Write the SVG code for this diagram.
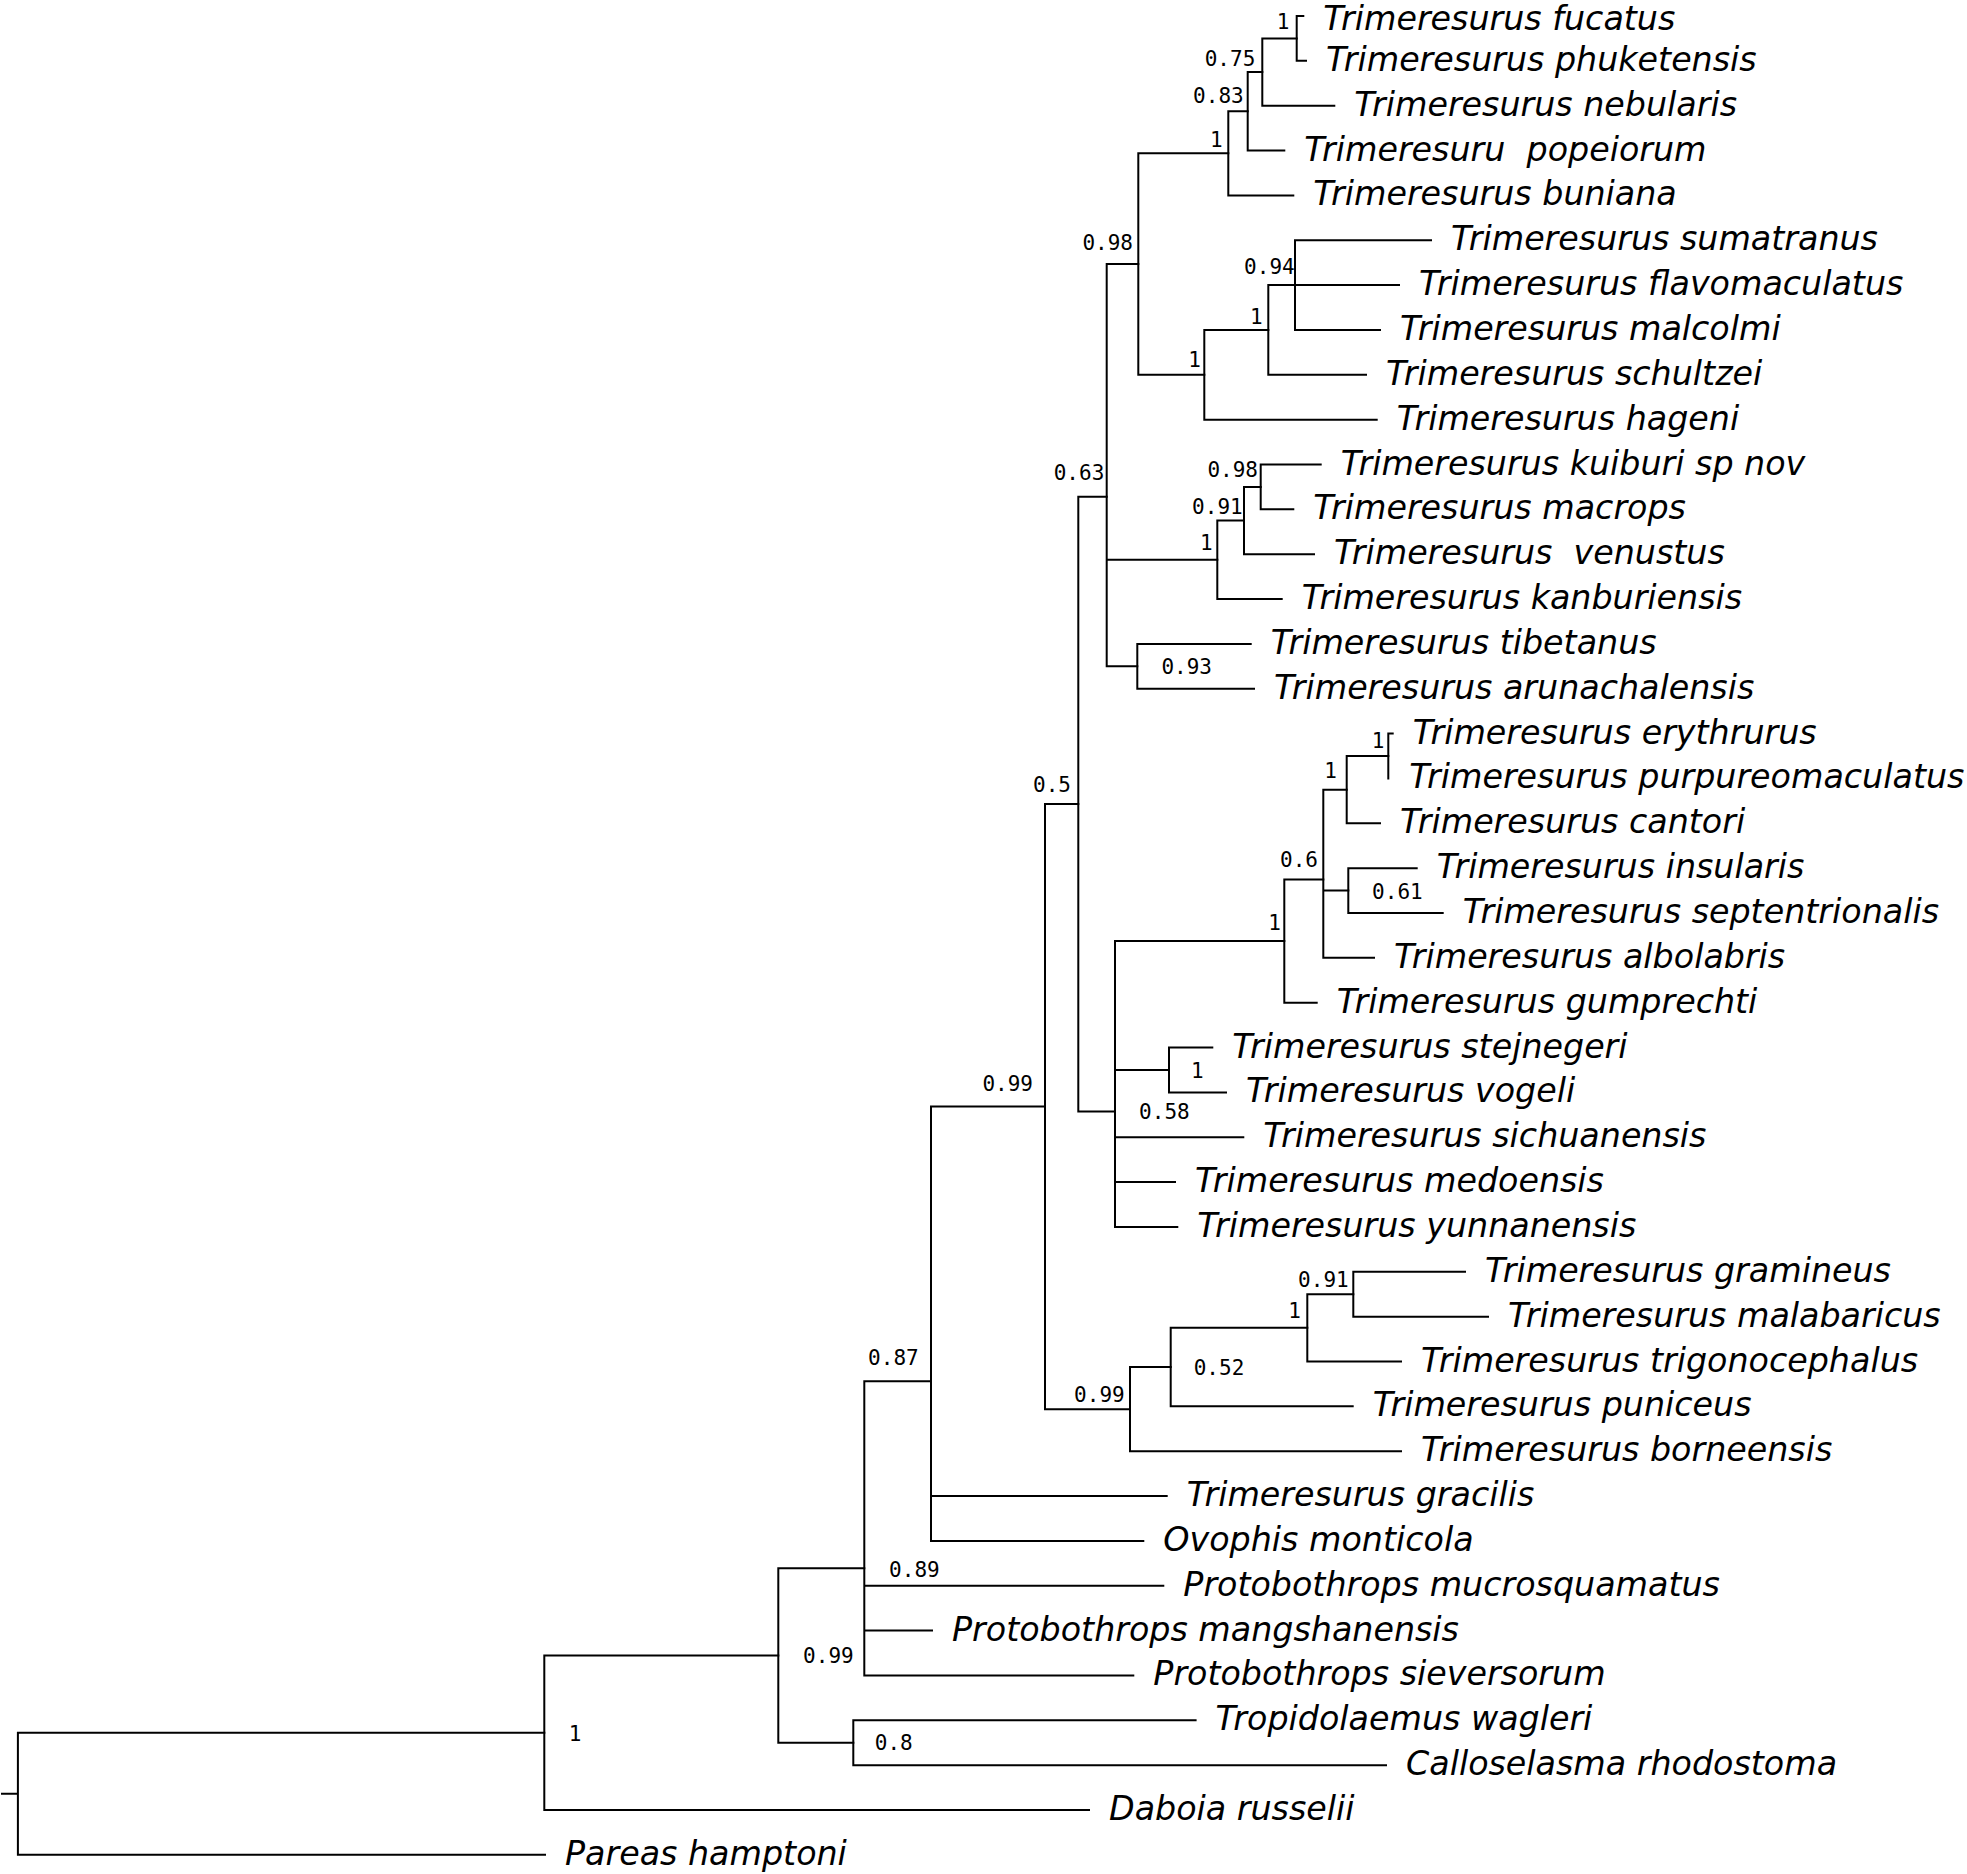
<svg xmlns="http://www.w3.org/2000/svg" width="1967" height="1874" viewBox="0 0 1967 1874">
<style>
.br{stroke:#000;stroke-width:2;fill:none;stroke-linecap:square}
.lf{font-family:"DejaVu Sans","Liberation Sans",sans-serif;font-style:italic;font-size:33.3px;fill:#000}
.sp{font-family:"DejaVu Sans Mono","Liberation Mono",monospace;font-size:21px;text-anchor:end;fill:#000}
</style>
<rect width="1967" height="1874" fill="#fff"/>
<g id="connectors" class="br">
<path d="M1296.7 16V60.85M1296.7 16H1303.3M1296.7 60.85H1306"/>
<path d="M1262.3 38.4V105.7M1262.3 38.4H1296.7M1262.3 105.7H1334.3"/>
<path d="M1247.7 72.05V150.55M1247.7 72.05H1262.3M1247.7 150.55H1284.3"/>
<path d="M1228.3 111.3V195.4M1228.3 111.3H1247.7M1228.3 195.4H1293.3"/>
<path d="M1295 240.25V329.95M1295 240.25H1431M1295 285.1H1399M1295 329.95H1380"/>
<path d="M1268.3 285.1V374.8M1268.3 285.1H1295M1268.3 374.8H1366"/>
<path d="M1204.3 329.95V419.65M1204.3 329.95H1268.3M1204.3 419.65H1376.7"/>
<path d="M1138.3 153.35V374.8M1138.3 153.35H1228.3M1138.3 374.8H1204.3"/>
<path d="M1260.7 464.5V509.35M1260.7 464.5H1320.7M1260.7 509.35H1293.3"/>
<path d="M1244 486.9V554.2M1244 486.9H1260.7M1244 554.2H1314"/>
<path d="M1217.3 520.55V599.05M1217.3 520.55H1244M1217.3 599.05H1281.7"/>
<path d="M1137.3 643.9V688.75M1137.3 643.9H1250.7M1137.3 688.75H1254"/>
<path d="M1106.7 264.1V666.3M1106.7 264.1H1138.3M1106.7 559.8H1217.3M1106.7 666.3H1137.3"/>
<path d="M1388.3 733.6V778.45M1388.3 733.6H1392.7"/>
<path d="M1346.7 756V823.3M1346.7 756H1388.3M1346.7 823.3H1380"/>
<path d="M1348.3 868.15V913M1348.3 868.15H1416.7M1348.3 913H1442.7"/>
<path d="M1323.3 789.65V957.85M1323.3 789.65H1346.7M1323.3 890.6H1348.3M1323.3 957.85H1374"/>
<path d="M1284.3 879.4V1002.7M1284.3 879.4H1323.3M1284.3 1002.7H1316.7"/>
<path d="M1169 1047.55V1092.4M1169 1047.55H1212.3M1169 1092.4H1226"/>
<path d="M1115 941.05V1226.95M1115 941.05H1284.3M1115 1069.95H1169M1115 1137.25H1243.3M1115 1182.1H1175M1115 1226.95H1177.3"/>
<path d="M1078.3 496.7V1111.46M1078.3 496.7H1106.7M1078.3 1111.46H1115"/>
<path d="M1353.3 1271.8V1316.65M1353.3 1271.8H1465M1353.3 1316.65H1488"/>
<path d="M1307.3 1294.2V1361.5M1307.3 1294.2H1353.3M1307.3 1361.5H1401"/>
<path d="M1170.7 1327.85V1406.35M1170.7 1327.85H1307.3M1170.7 1406.35H1352.7"/>
<path d="M1130 1367.1V1451.2M1130 1367.1H1170.7M1130 1451.2H1401"/>
<path d="M1045 804.1V1409.15M1045 804.1H1078.3M1045 1409.15H1130"/>
<path d="M931 1106.6V1540.9M931 1106.6H1045M931 1496.05H1166.7M931 1540.9H1143.3"/>
<path d="M864.3 1381.2V1675.45M864.3 1381.2H931M864.3 1585.75H1163.3M864.3 1630.6H932M864.3 1675.45H1133.3"/>
<path d="M853.3 1720.3V1765.15M853.3 1720.3H1195.6M853.3 1765.15H1386"/>
<path d="M778.3 1568.25V1742.7M778.3 1568.25H864.3M778.3 1742.7H853.3"/>
<path d="M544.3 1655.5V1810M544.3 1655.5H778.3M544.3 1810H1089"/>
<path d="M17.9 1732.75V1854.85M17.9 1732.75H544.3M17.9 1854.85H545M2 1793.8H17.9"/>
</g>
<g id="support-values" class="sp">
<g id="n-fuc-phu"><text x="1289.3" y="29.3">1</text></g>
<g id="n-075"><text x="1255.3" y="65.7">0.75</text></g>
<g id="n-083"><text x="1243.7" y="102.7">0.83</text></g>
<g id="n-1a"><text x="1222.7" y="146.7">1</text></g>
<g id="n-098a"><text x="1133" y="250">0.98</text></g>
<g id="n-094"><text x="1294.7" y="274.3">0.94</text></g>
<g id="n-1d"><text x="1262.7" y="324">1</text></g>
<g id="n-1c"><text x="1201" y="366.7">1</text></g>
<g id="n-063"><text x="1104.3" y="480">0.63</text></g>
<g id="n-098b"><text x="1258" y="476.7">0.98</text></g>
<g id="n-091a"><text x="1242.7" y="514">0.91</text></g>
<g id="n-1e"><text x="1212.7" y="550">1</text></g>
<g id="n-093"><text x="1212" y="674">0.93</text></g>
<g id="n-05"><text x="1071" y="791.7">0.5</text></g>
<g id="n-1i"><text x="1384.3" y="748.3">1</text></g>
<g id="n-1h"><text x="1337" y="778.3">1</text></g>
<g id="n-06"><text x="1318" y="866.7">0.6</text></g>
<g id="n-061"><text x="1422.7" y="899">0.61</text></g>
<g id="n-1f"><text x="1281" y="930">1</text></g>
<g id="n-1g"><text x="1203.7" y="1077.7">1</text></g>
<g id="n-058"><text x="1189.7" y="1118.7">0.58</text></g>
<g id="n-099a"><text x="1033" y="1090.7">0.99</text></g>
<g id="n-091b"><text x="1348.7" y="1286.7">0.91</text></g>
<g id="n-1j"><text x="1301" y="1318.3">1</text></g>
<g id="n-052"><text x="1244.3" y="1375">0.52</text></g>
<g id="n-099b"><text x="1124.7" y="1401.7">0.99</text></g>
<g id="n-087"><text x="918.7" y="1365.3">0.87</text></g>
<g id="n-089"><text x="939.7" y="1576.7">0.89</text></g>
<g id="n-099d"><text x="853.7" y="1663.3">0.99</text></g>
<g id="n-08"><text x="912.7" y="1750">0.8</text></g>
<g id="n-1root"><text x="581.3" y="1740.7">1</text></g>
</g>
<g id="leaves" class="lf">
<g id="t-fucatus"><text x="1323.3" y="30">Trimeresurus fucatus</text></g>
<g id="t-phuketensis"><text x="1326" y="70.85">Trimeresurus phuketensis</text></g>
<g id="t-nebularis"><text x="1354.3" y="115.7">Trimeresurus nebularis</text></g>
<g id="t-popeiorum"><text x="1304.3" y="160.55" xml:space="preserve">Trimeresuru  popeiorum</text></g>
<g id="t-buniana"><text x="1313.3" y="205.4">Trimeresurus buniana</text></g>
<g id="t-sumatranus"><text x="1451" y="250.25">Trimeresurus sumatranus</text></g>
<g id="t-flavomaculatus"><text x="1419" y="295.1">Trimeresurus flavomaculatus</text></g>
<g id="t-malcolmi"><text x="1400" y="339.95">Trimeresurus malcolmi</text></g>
<g id="t-schultzei"><text x="1386" y="384.8">Trimeresurus schultzei</text></g>
<g id="t-hageni"><text x="1396.7" y="429.65">Trimeresurus hageni</text></g>
<g id="t-kuiburi"><text x="1340.7" y="474.5">Trimeresurus kuiburi sp nov</text></g>
<g id="t-macrops"><text x="1313.3" y="519.35">Trimeresurus macrops</text></g>
<g id="t-venustus"><text x="1334" y="564.2" xml:space="preserve">Trimeresurus  venustus</text></g>
<g id="t-kanburiensis"><text x="1301.7" y="609.05">Trimeresurus kanburiensis</text></g>
<g id="t-tibetanus"><text x="1270.7" y="653.9">Trimeresurus tibetanus</text></g>
<g id="t-arunachalensis"><text x="1274" y="698.75">Trimeresurus arunachalensis</text></g>
<g id="t-erythrurus"><text x="1412.7" y="743.6">Trimeresurus erythrurus</text></g>
<g id="t-purpureomaculatus"><text x="1409.3" y="788.45">Trimeresurus purpureomaculatus</text></g>
<g id="t-cantori"><text x="1400" y="833.3">Trimeresurus cantori</text></g>
<g id="t-insularis"><text x="1436.7" y="878.15">Trimeresurus insularis</text></g>
<g id="t-septentrionalis"><text x="1462.7" y="923">Trimeresurus septentrionalis</text></g>
<g id="t-albolabris"><text x="1394" y="967.85">Trimeresurus albolabris</text></g>
<g id="t-gumprechti"><text x="1336.7" y="1012.7">Trimeresurus gumprechti</text></g>
<g id="t-stejnegeri"><text x="1232.3" y="1057.55">Trimeresurus stejnegeri</text></g>
<g id="t-vogeli"><text x="1246" y="1102.4">Trimeresurus vogeli</text></g>
<g id="t-sichuanensis"><text x="1263.3" y="1147.25">Trimeresurus sichuanensis</text></g>
<g id="t-medoensis"><text x="1195" y="1192.1">Trimeresurus medoensis</text></g>
<g id="t-yunnanensis"><text x="1197.3" y="1236.95">Trimeresurus yunnanensis</text></g>
<g id="t-gramineus"><text x="1485" y="1281.8">Trimeresurus gramineus</text></g>
<g id="t-malabaricus"><text x="1508" y="1326.65">Trimeresurus malabaricus</text></g>
<g id="t-trigonocephalus"><text x="1421" y="1371.5">Trimeresurus trigonocephalus</text></g>
<g id="t-puniceus"><text x="1372.7" y="1416.35">Trimeresurus puniceus</text></g>
<g id="t-borneensis"><text x="1421" y="1461.2">Trimeresurus borneensis</text></g>
<g id="t-gracilis"><text x="1186.7" y="1506.05">Trimeresurus gracilis</text></g>
<g id="t-ovophis"><text x="1163.3" y="1550.9">Ovophis monticola</text></g>
<g id="t-mucrosquamatus"><text x="1183.3" y="1595.75">Protobothrops mucrosquamatus</text></g>
<g id="t-mangshanensis"><text x="952" y="1640.6">Protobothrops mangshanensis</text></g>
<g id="t-sieversorum"><text x="1153.3" y="1685.45">Protobothrops sieversorum</text></g>
<g id="t-tropidolaemus"><text x="1215.6" y="1730.3">Tropidolaemus wagleri</text></g>
<g id="t-calloselasma"><text x="1406" y="1775.15">Calloselasma rhodostoma</text></g>
<g id="t-daboia"><text x="1109" y="1820">Daboia russelii</text></g>
<g id="t-pareas"><text x="565" y="1864.85">Pareas hamptoni</text></g>
</g>
</svg>
